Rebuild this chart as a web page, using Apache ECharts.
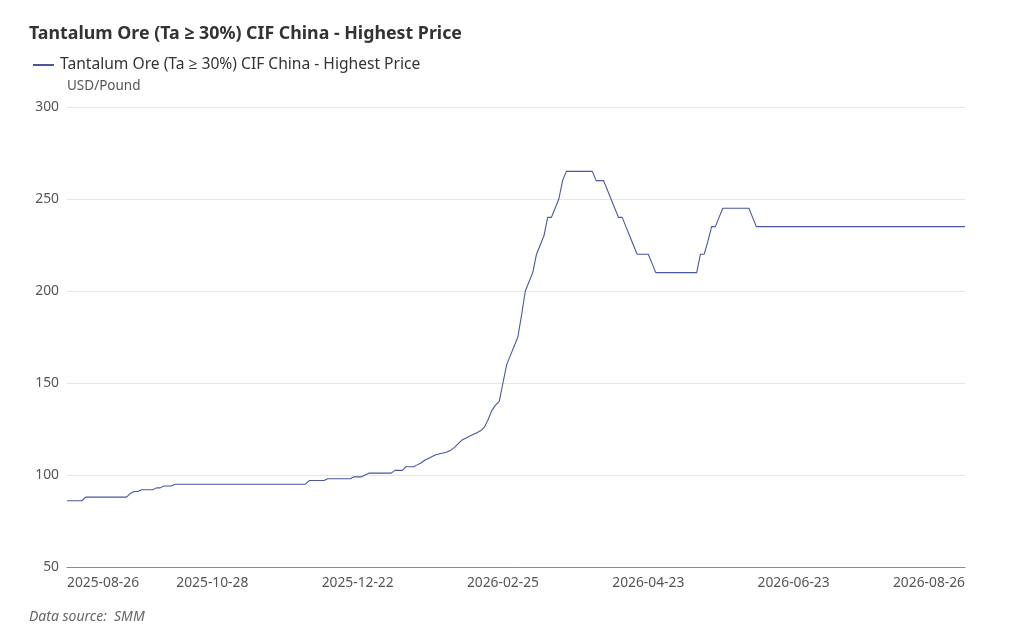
<!DOCTYPE html>
<html>
  <head>
    <meta charset="UTF-8" />
    <title>Tantalum Ore Price</title>
    <script src="https://cdn.jsdelivr.net/npm/echarts@6.0.0/dist/echarts.min.js"></script>
    <style>
      html, body { margin: 0; padding: 0; background: #fff; }
    </style>
  </head>
  <body>
    <div id="priceChart" style="width: 1024px; height: 643px"></div>
  </body>
  <script>
const seriesName = 'Tantalum Ore (Ta \u2265 30%) CIF China - Highest Price';
const startDate = '2025-08-26';
const endDate = '2026-08-26';
// market closed on these weekdays
const holidays = [
  '2025-10-01', '2025-10-02', '2025-10-03', '2025-10-06', '2025-10-07', '2025-10-08',
  '2026-01-01', '2026-01-02',
  '2026-02-16', '2026-02-17', '2026-02-18', '2026-02-19', '2026-02-20', '2026-02-23',
  '2026-04-03', '2026-04-06',
  '2026-05-01', '2026-05-04', '2026-05-05', '2026-06-19'
];
// USD/Pound, one value per trading day
const prices = [
  86, 86, 86, 86, 86, 88, 88, 88, 88, 88, 88, 88,
  88, 88, 88, 88, 88, 90, 91, 91, 92, 92, 92, 92,
  93, 93, 94, 94, 94, 95, 95, 95, 95, 95, 95, 95,
  95, 95, 95, 95, 95, 95, 95, 95, 95, 95, 95, 95,
  95, 95, 95, 95, 95, 95, 95, 95, 95, 95, 95, 95,
  95, 95, 95, 95, 95, 97, 97, 97, 97, 97, 98, 98,
  98, 98, 98, 98, 98, 99, 99, 99, 100, 101, 101, 101,
  101, 101, 101, 101, 102.5, 102.5, 102.5, 104.5, 104.5, 104.5, 105.5, 106.5,
  108, 109, 110, 111, 111.5, 112, 112.5, 113.5, 115, 117, 119, 120,
  121, 122, 123, 124, 126, 130, 135, 138, 140, 150, 160, 165,
  170, 175, 187, 200, 205, 210, 220, 225, 230, 240, 240, 245,
  250, 260, 265, 265, 265, 265, 265, 265, 265, 265, 260, 260,
  260, 255, 250, 245, 240, 240, 235, 230, 225, 220, 220, 220,
  220, 215, 210, 210, 210, 210, 210, 210, 210, 210, 210, 210,
  210, 210, 220, 220, 227, 235, 235, 240, 245, 245, 245, 245,
  245, 245, 245, 245, 240, 235, 235, 235, 235, 235, 235, 235,
  235, 235, 235, 235, 235, 235, 235, 235, 235, 235, 235, 235,
  235, 235, 235, 235, 235, 235, 235, 235, 235, 235, 235, 235,
  235, 235, 235, 235, 235, 235, 235, 235, 235, 235, 235, 235,
  235, 235, 235, 235, 235, 235, 235, 235, 235, 235, 235, 235,
  235, 235
];
const yTicks = [50, 100, 150, 200, 250, 300];
const labelStep = 39;

// trading days: weekdays that are not holidays
let dates = [];
let d = new Date(startDate + 'T00:00:00Z');
let last = new Date(endDate + 'T00:00:00Z');
while (d <= last) {
  let s = d.toISOString().slice(0, 10);
  let wd = d.getUTCDay();
  if (wd !== 0 && wd !== 6 && !holidays.includes(s)) dates.push(s);
  d.setUTCDate(d.getUTCDate() + 1);
}
let lastIdx = dates.length - 1;

let font = "'Noto Sans', 'Open Sans', 'DejaVu Sans', sans-serif";
let lineColor = '#4a579f';
let myChart = echarts.init(document.getElementById('priceChart'));

myChart.setOption({
  animation: false,
  textStyle: { fontFamily: font },
  title: {
    text: seriesName,
    left: 24,
    top: 20,
    textStyle: { fontSize: 17.8, fontWeight: 'bold', color: '#333', fontFamily: font }
  },
  legend: {
    data: [{ name: seriesName, icon: 'rect' }],
    left: 28,
    top: 52,
    itemWidth: 21,
    itemHeight: 2,
    textStyle: { fontSize: 15.6, color: '#333', padding: [0, 0, 0, 1] }
  },
  grid: { left: 67, right: 59, top: 107, bottom: 76 },
  xAxis: {
    type: 'category',
    data: dates,
    boundaryGap: false,
    axisLine: { lineStyle: { color: '#8c8c8c' } },
    axisTick: { show: false },
    axisLabel: {
      color: '#555',
      fontSize: 13.8,
      margin: 9,
      interval: (i) => (i % labelStep === 0 && i <= lastIdx - 20) || i === lastIdx,
      alignMinLabel: 'left',
      alignMaxLabel: 'right'
    }
  },
  yAxis: {
    type: 'value',
    name: 'USD/Pound',
    nameGap: 14,
    nameTextStyle: { color: '#555', fontSize: 13.5, align: 'left' },
    min: yTicks[0],
    max: yTicks[yTicks.length - 1],
    interval: 50,
    axisLabel: { color: '#555', fontSize: 13.8, margin: 8 },
    splitLine: { lineStyle: { color: '#e6e6e6' } }
  },
  series: [
    {
      name: seriesName,
      type: 'line',
      data: prices,
      symbol: 'none',
      lineStyle: { width: 1.1, color: lineColor },
      itemStyle: { color: lineColor }
    }
  ],
  graphic: [
    {
      type: 'text',
      left: 29,
      top: 610,
      style: {
        text: 'Data source:  SMM',
        fill: '#666',
        font: "italic 14px 'Noto Sans', sans-serif"
      }
    }
  ]
});
  </script>
</html>
